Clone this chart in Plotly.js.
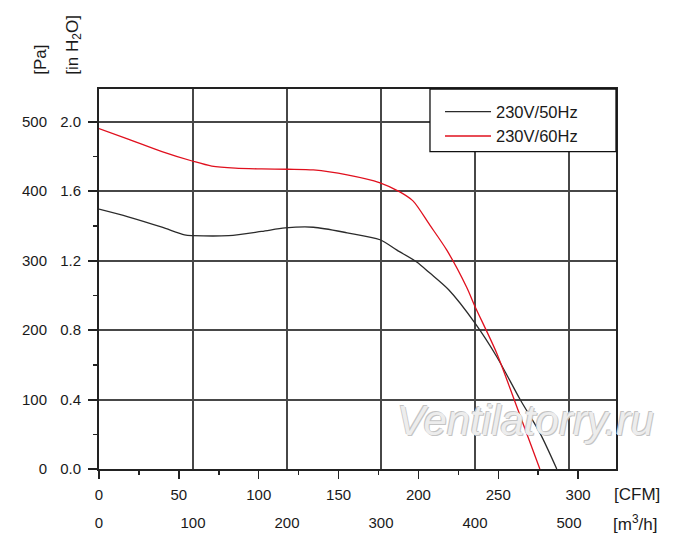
<!DOCTYPE html>
<html>
<head>
<meta charset="utf-8">
<script src="https://cdn.plot.ly/plotly-3.0.1.min.js"></script>
<style>html,body{margin:0;padding:0;background:#fff;}#chart{width:700px;height:546px;}</style>
</head>
<body>
<div id="chart"></div>
<script>
// Airflow in m³/h, static pressure in Pa
var flow50 = [0, 31, 67, 91, 100, 138, 173, 198, 228, 264, 299, 317, 338, 352, 372, 400, 423, 448, 469, 487];
var pres50 = [374, 363, 348, 337, 336, 336, 342, 347, 348, 340, 330, 315, 298, 282, 258, 210, 162, 100, 52, 0];
var flow60 = [0, 31, 67, 100, 120, 145, 173, 201, 228, 264, 299, 320, 334, 352, 370, 391, 400, 423, 443, 469];
var pres60 = [490, 475, 457, 443, 436, 433, 432, 431.5, 430.5, 423.5, 412, 399, 386, 351, 315, 262, 234, 167, 95, 0];
var seriesNames = ['230V/50Hz', '230V/60Hz'];
var paTicks = [0, 100, 200, 300, 400, 500];
var inh2oTicks = [0, 0.4, 0.8, 1.2, 1.6, 2.0];
var m3hTicks = [0, 100, 200, 300, 400, 500];
var cfmTicks = [0, 50, 100, 150, 200, 250, 300];

var FONT = 'Liberation Sans, Arial, sans-serif';
var txt = '#1a1a1a';
var grid = '#474747';

var traces = [
  {x: flow50, y: pres50, name: seriesNames[0], type: 'scatter', mode: 'lines',
   line: {color: '#2b2b2b', width: 1.3, shape: 'spline', smoothing: 0.8}},
  {x: flow60, y: pres60, name: seriesNames[1], type: 'scatter', mode: 'lines',
   line: {color: '#e0101e', width: 1.3, shape: 'spline', smoothing: 0.8}},
  // dummy traces to activate the secondary axes
  {x: [0], y: [0], xaxis: 'x2', yaxis: 'y', mode: 'none', showlegend: false, hoverinfo: 'skip'},
  {x: [0], y: [0], xaxis: 'x', yaxis: 'y2', mode: 'none', showlegend: false, hoverinfo: 'skip'}
];

var layout = {
  width: 700, height: 546,
  margin: {l: 99, r: 84, t: 89, b: 77},
  paper_bgcolor: '#fff', plot_bgcolor: '#fff',
  font: {family: FONT, size: 15, color: txt},
  showlegend: true,
  legend: {
    x: 0.6596, xanchor: 'left', y: 0.986, yanchor: 'top',
    bgcolor: 'rgba(0,0,0,0)', borderwidth: 0,
    font: {family: FONT, size: 16.5, color: txt},
    itemwidth: 46, tracegroupgap: 0
  },
  shapes: [
    {type: 'rect', xref: 'paper', yref: 'paper', x0: 0.6402, x1: 1, y0: 0.835, y1: 1,
     fillcolor: '#fff', line: {color: '#111', width: 1.3}, layer: 'above'}
  ],
  xaxis: {
    range: [0, 550], tickvals: m3hTicks, ticks: '',
    showgrid: true, gridcolor: grid, gridwidth: 2,
    showline: true, linecolor: '#222', linewidth: 2, mirror: true,
    zeroline: false, ticklabelstandoff: 39,
    tickfont: {family: FONT, size: 15, color: txt}
  },
  xaxis2: {
    overlaying: 'x', anchor: 'y', side: 'bottom',
    range: [0, 550 / 1.699], tickvals: cfmTicks,
    ticks: 'outside', ticklen: 9, tickcolor: '#222', tickwidth: 1.5,
    minor: {dtick: 25, ticks: 'outside', ticklen: 5, tickcolor: '#222', tickwidth: 1.5, showgrid: false},
    showgrid: false, showline: false, zeroline: false, ticklabelstandoff: 3,
    tickfont: {family: FONT, size: 15, color: txt}
  },
  yaxis: {
    range: [0, 547], tickvals: paTicks,
    ticks: 'outside', ticklen: 9, tickcolor: '#222', tickwidth: 2,
    minor: {dtick: 50, ticks: 'outside', ticklen: 4, tickcolor: '#222', tickwidth: 1.5, showgrid: false},
    showgrid: true, gridcolor: grid, gridwidth: 2,
    showline: true, linecolor: '#222', linewidth: 2, mirror: true,
    zeroline: false, ticklabelstandoff: 38,
    tickfont: {family: FONT, size: 15, color: txt}
  },
  yaxis2: {
    overlaying: 'y', anchor: 'x', side: 'left',
    range: [0, 547 / 250], tickvals: inh2oTicks, tickformat: '.1f', ticks: '',
    showgrid: false, showline: false, zeroline: false, ticklabelstandoff: 17,
    tickfont: {family: FONT, size: 15, color: txt}
  },
  annotations: [
    {text: '[CFM]', xref: 'paper', yref: 'paper', x: 1.0406, y: -0.0676, xanchor: 'center', yanchor: 'middle', showarrow: false,
     font: {family: FONT, size: 17, color: txt}},
    {text: '[m<sup>3</sup>/h]', xref: 'paper', yref: 'paper', x: 1.037, y: -0.141, xanchor: 'center', yanchor: 'middle', showarrow: false,
     font: {family: FONT, size: 17, color: txt}},
    {text: '[Pa]', xref: 'paper', yref: 'paper', x: -0.112, y: 1.077, xanchor: 'center', yanchor: 'middle', textangle: -90, showarrow: false,
     font: {family: FONT, size: 17, color: txt}},
    {text: '[in H<sub>2</sub>O]', xref: 'paper', yref: 'paper', x: -0.05, y: 1.117, xanchor: 'center', yanchor: 'middle', textangle: -90, showarrow: false,
     font: {family: FONT, size: 17, color: txt}},
    {text: 'Ventilatorry.ru', xref: 'paper', yref: 'paper', x: 0.824, y: 0.127, xanchor: 'center', yanchor: 'middle', showarrow: false,
     font: {family: FONT, size: 42, color: '#ededed', style: 'italic',
            shadow: '1px 1px 0px #c4c4c4, -1px -1px 0px #c4c4c4'}}
  ]
};

Plotly.newPlot('chart', traces, layout, {displayModeBar: false, staticPlot: true});
</script>
</body>
</html>
